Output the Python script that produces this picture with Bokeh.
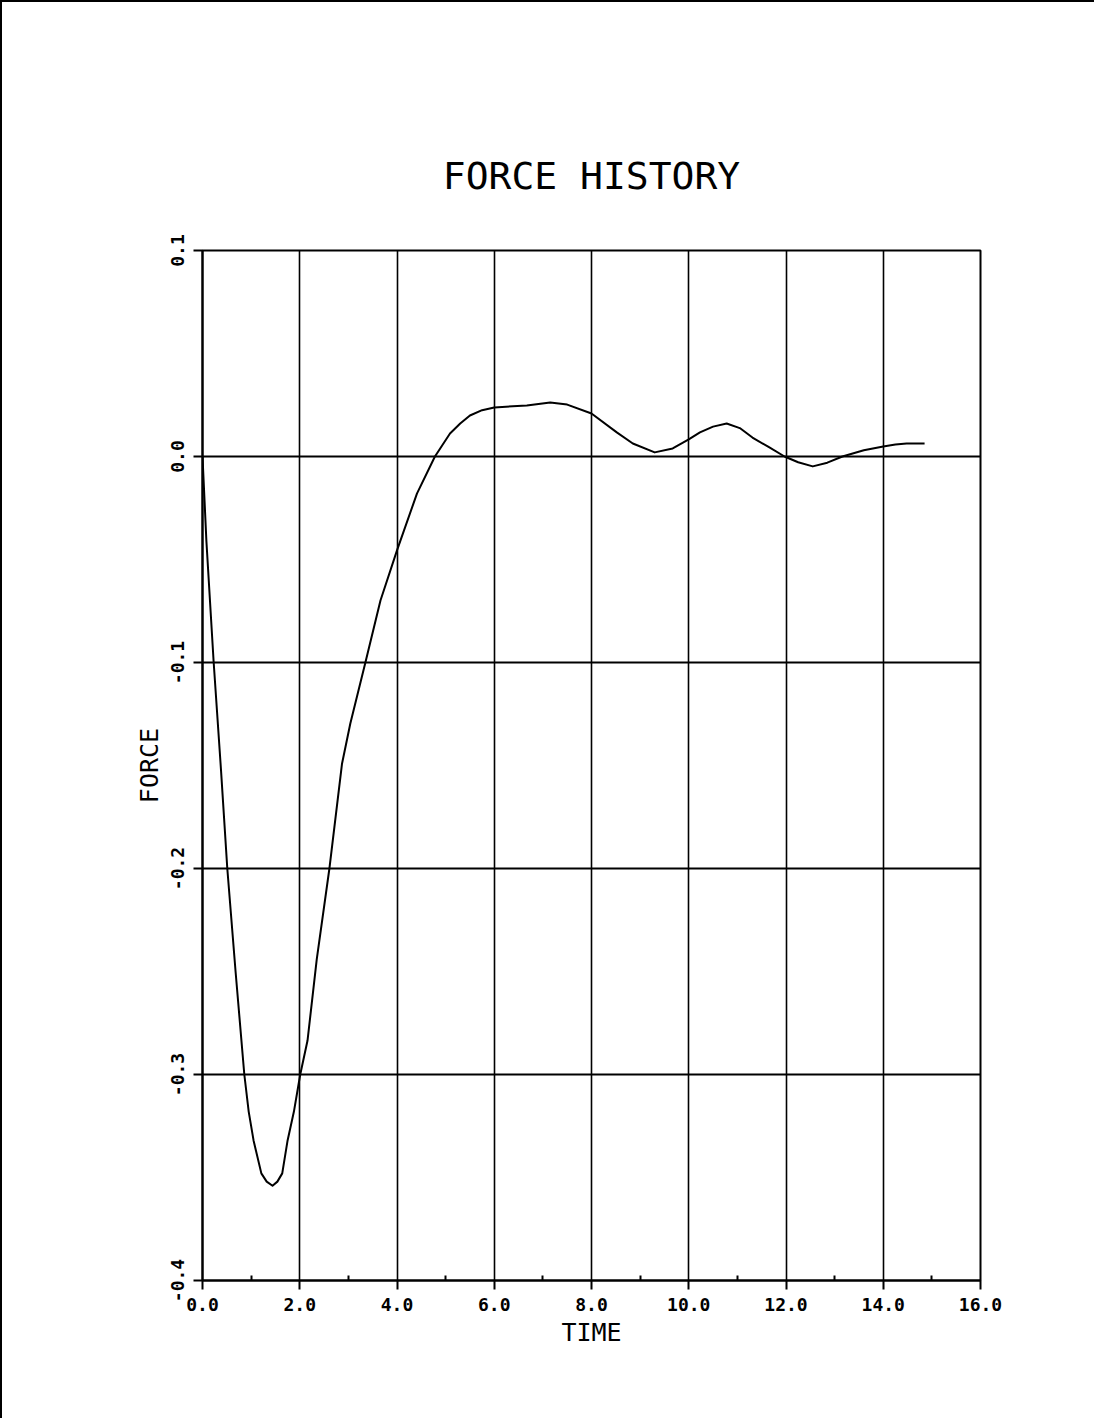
from bokeh.plotting import figure
from bokeh.models import FixedTicker, NumeralTickFormatter
from bokeh.embed import file_html
from bokeh.resources import INLINE

# Data
time = [0.0, 0.08, 0.23, 0.38, 0.51, 0.68, 0.86, 0.95, 1.05, 1.21, 1.32, 1.44,
        1.54, 1.64, 1.75, 1.88, 2.01, 2.16, 2.35, 2.61, 2.87, 3.04, 3.35, 3.66,
        4.0, 4.41, 4.78, 5.09, 5.3, 5.5, 5.75, 6.0, 6.67, 7.15, 7.5, 8.0, 8.52,
        8.85, 9.3, 9.67, 10.0, 10.23, 10.5, 10.78, 11.05, 11.31, 11.65, 11.97,
        12.25, 12.55, 12.85, 13.16, 13.6, 14.0, 14.25, 14.48, 14.85]
force = [0.0, -0.041, -0.1, -0.152, -0.2, -0.25, -0.3, -0.318, -0.332, -0.348,
         -0.352, -0.354, -0.352, -0.348, -0.332, -0.318, -0.3, -0.2835, -0.244,
         -0.2, -0.149, -0.1296, -0.1, -0.0699, -0.0456, -0.018, 0.0, 0.0112,
         0.016, 0.0199, 0.0225, 0.0238, 0.0248, 0.0262, 0.0252, 0.0209, 0.0117,
         0.0063, 0.002, 0.0039, 0.0083, 0.0117, 0.0145, 0.016, 0.0138, 0.0092,
         0.0045, 0.0, -0.0028, -0.0048, -0.003, 0.0, 0.003, 0.0049, 0.0058,
         0.0063, 0.0063]

x_ticks = [0, 2, 4, 6, 8, 10, 12, 14, 16]
x_minor = [1, 3, 5, 7, 9, 11, 13, 15]
y_ticks = [-0.4, -0.3, -0.2, -0.1, 0.0, 0.1]

title_text = "FORCE HISTORY"
x_label = "TIME"
y_label = "FORCE"

FONT = "DejaVu Sans Mono"

W, H = 1094, 1418
p = figure(width=W, height=H, x_range=(0, 16), y_range=(-0.4, 0.1),
           output_backend="svg", toolbar_location=None,
           min_border_left=200, min_border_right=116,
           min_border_top=248, min_border_bottom=140)
p.styles = {"border-top": "2px solid black", "border-left": "2px solid black"}
p.background_fill_color = "white"
p.border_fill_color = "white"
p.outline_line_color = "black"
p.outline_line_width = 2

# title
p.title.text = title_text
p.title.align = "center"
p.title.text_font = FONT
p.title.text_font_size = "38px"
p.title.text_font_style = "normal"
p.title.text_color = "black"
p.title.standoff = 106

# axes
p.xaxis.ticker = FixedTicker(ticks=x_ticks, minor_ticks=x_minor)
p.yaxis.ticker = FixedTicker(ticks=y_ticks, minor_ticks=[])
p.xaxis.formatter = NumeralTickFormatter(format="0.0")
p.yaxis.formatter = NumeralTickFormatter(format="0.0")
for ax in (p.xaxis, p.yaxis):
    ax.axis_line_width = 2
    ax.axis_line_color = "black"
    ax.major_tick_line_width = 2
    ax.major_tick_line_color = "black"
    ax.major_tick_out = 9
    ax.major_tick_in = 0
    ax.major_label_text_font = FONT
    ax.major_label_text_font_size = "18px"
    ax.major_label_text_font_style = "bold"
    ax.major_label_text_color = "black"
    ax.axis_label_text_font = FONT
    ax.axis_label_text_font_size = "25px"
    ax.axis_label_text_font_style = "normal"
    ax.axis_label_text_color = "black"
p.xaxis.minor_tick_line_width = 2
p.xaxis.minor_tick_line_color = "black"
p.xaxis.minor_tick_in = 5
p.xaxis.minor_tick_out = 0
p.yaxis.minor_tick_line_color = None
p.xaxis.major_label_standoff = 8
p.yaxis.major_label_standoff = 10
p.yaxis.major_label_orientation = "vertical"
p.xaxis.axis_label = x_label
p.yaxis.axis_label = y_label
p.xaxis.axis_label_standoff = 4
p.yaxis.axis_label_standoff = 4

# grid
p.xgrid.ticker = FixedTicker(ticks=x_ticks)
p.ygrid.ticker = FixedTicker(ticks=y_ticks)
p.xgrid.grid_line_color = "black"
p.xgrid.grid_line_width = 1.6
p.ygrid.grid_line_color = "black"
p.ygrid.grid_line_width = 2.2
p.xgrid.grid_line_alpha = 1
p.ygrid.grid_line_alpha = 1

# curve
p.line(time, force, line_color="black", line_width=2, line_join="round")

open("out.html", "w").write(file_html(p, INLINE))
